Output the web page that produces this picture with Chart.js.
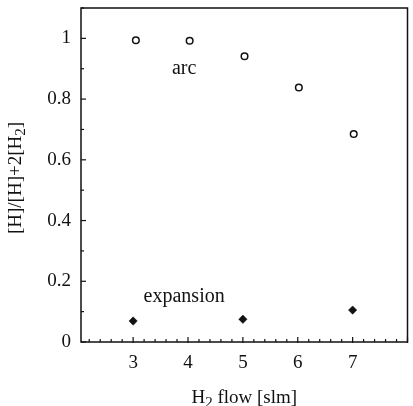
<!DOCTYPE html>
<html>
<head>
<meta charset="utf-8">
<script src="https://cdn.jsdelivr.net/npm/chart.js@4.4.1/dist/chart.umd.min.js"></script>
<style>
html,body{margin:0;padding:0;background:#fff;}
#wrap{width:413px;height:406px;position:relative;}
</style>
</head>
<body>
<div id="wrap"><canvas id="c" width="413" height="406"></canvas></div>
<script>
const arcFlow = [3.05, 4.03, 5.03, 6.02, 7.02];
const arcValues = [0.994, 0.992, 0.941, 0.838, 0.685];
const expFlow = [3, 5, 7];
const expValues = [0.069, 0.075, 0.105];
const xTickValues = [3, 4, 5, 6, 7];
const yTickValues = [0, 0.2, 0.4, 0.6, 0.8, 1];
const seriesLabels = ['arc', 'expansion'];
const labelPos = [[3.93, 0.90], [3.93, 0.148]];

const FONT = '"Liberation Serif", "Times New Roman", serif';

const framePlugin = {
  id: 'frame',
  afterDraw(chart) {
    const ctx = chart.ctx, a = chart.chartArea;
    const xs = chart.scales.x, ys = chart.scales.y;
    ctx.save();
    ctx.strokeStyle = '#111';
    ctx.lineWidth = 1.5;
    ctx.strokeRect(a.left, a.top, a.right - a.left, a.bottom - a.top);
    ctx.lineWidth = 1.2;
    for (let i = 11; i <= 40; i++) {
      const v = i / 5;
      if (v < xs.min || v > xs.max) continue;
      const px = xs.getPixelForValue(v);
      const major = (i % 5 === 0);
      ctx.beginPath();
      ctx.moveTo(px, a.bottom + (major ? 1 : 0));
      ctx.lineTo(px, a.bottom - (major ? 5 : 3));
      ctx.stroke();
    }
    for (let i = 0; i <= 11; i++) {
      const v = i / 10;
      const py = ys.getPixelForValue(v);
      const major = (i % 2 === 0);
      ctx.beginPath();
      ctx.moveTo(a.left, py);
      ctx.lineTo(a.left + (major ? 5 : 3), py);
      ctx.stroke();
    }
    ctx.fillStyle = '#111';
    ctx.font = '20px ' + FONT;
    ctx.textAlign = 'center';
    ctx.textBaseline = 'middle';
    seriesLabels.forEach((t, k) => {
      ctx.fillText(t, xs.getPixelForValue(labelPos[k][0]), ys.getPixelForValue(labelPos[k][1]));
    });
    const cx = (a.left + a.right) / 2;
    const big = '19px ' + FONT, small = '15px ' + FONT;
    ctx.textAlign = 'left';
    ctx.textBaseline = 'alphabetic';
    ctx.font = big; const wH = ctx.measureText('H').width;
    ctx.font = small; const w2 = ctx.measureText('2').width;
    ctx.font = big; const wR = ctx.measureText(' flow [slm]').width;
    let x0 = cx - (wH + w2 + wR) / 2;
    const base = 403;
    ctx.font = big; ctx.fillText('H', x0, base); x0 += wH;
    ctx.font = small; ctx.fillText('2', x0, base + 4); x0 += w2;
    ctx.font = big; ctx.fillText(' flow [slm]', x0, base);
    ctx.save();
    ctx.translate(21, (a.top + a.bottom) / 2 + 3);
    ctx.rotate(-Math.PI / 2);
    const p1 = '[H]/[H]+2[H', p2 = '2', p3 = ']';
    ctx.font = big; const w1 = ctx.measureText(p1).width;
    ctx.font = small; const wb = ctx.measureText(p2).width;
    ctx.font = big; const w3 = ctx.measureText(p3).width;
    let y0 = -(w1 + wb + w3) / 2;
    ctx.font = big; ctx.fillText(p1, y0, 0); y0 += w1;
    ctx.font = small; ctx.fillText(p2, y0, 4); y0 += wb;
    ctx.font = big; ctx.fillText(p3, y0, 0);
    ctx.restore();
    ctx.restore();
  }
};

new Chart(document.getElementById('c'), {
  type: 'scatter',
  data: {
    datasets: [
      {
        label: seriesLabels[0],
        data: arcFlow.map((x, i) => ({x: x, y: arcValues[i]})),
        pointStyle: 'circle',
        pointRadius: 3.3,
        pointBorderWidth: 1.5,
        pointBorderColor: '#111',
        pointBackgroundColor: '#fff'
      },
      {
        label: seriesLabels[1],
        data: expFlow.map((x, i) => ({x: x, y: expValues[i]})),
        pointStyle: 'rectRot',
        pointRadius: 4.2,
        pointBorderWidth: 0.5,
        pointBorderColor: '#111',
        pointBackgroundColor: '#111'
      }
    ]
  },
  options: {
    responsive: false,
    animation: false,
    devicePixelRatio: 1,
    layout: {padding: {left: 0, right: 3, top: 8, bottom: 0}},
    plugins: {legend: {display: false}, tooltip: {enabled: false}},
    scales: {
      x: {
        type: 'linear',
        min: 2.05,
        max: 8,
        grid: {display: false, drawTicks: false, tickLength: 0},
        border: {display: false},
        afterBuildTicks: s => { s.ticks = xTickValues.map(v => ({value: v})); },
        afterFit: s => { s.height = 64; s.paddingLeft = 0; s.paddingRight = 0; },
        ticks: {color: '#111', font: {family: FONT, size: 19}, padding: 10, maxRotation: 0, autoSkip: false}
      },
      y: {
        type: 'linear',
        min: 0,
        max: 1.1,
        grid: {display: false, drawTicks: false, tickLength: 0},
        border: {display: false},
        afterBuildTicks: s => { s.ticks = yTickValues.map(v => ({value: v})); },
        afterFit: s => { s.width = 81; s.paddingTop = 0; s.paddingBottom = 0; },
        ticks: {color: '#111', font: {family: FONT, size: 19}, padding: 10, autoSkip: false,
                callback: v => String(Math.round(v * 10) / 10)}
      }
    }
  },
  plugins: [framePlugin]
});
</script>
</body>
</html>
